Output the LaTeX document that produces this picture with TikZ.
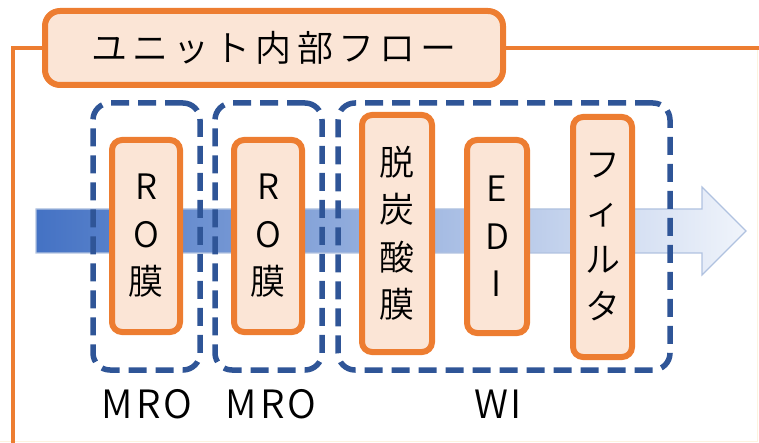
\documentclass[tikz,border=0pt]{standalone}
\usepackage{fontspec}
\newfontfamily\jp{Noto Sans CJK JP DemiLight}
\definecolor{ora}{HTML}{ED7D31}
\definecolor{peach}{HTML}{FBE5D6}
\definecolor{dblue}{HTML}{2F5597}
\definecolor{ablue}{HTML}{4472C4}
\definecolor{alight}{HTML}{F0F4FB}
\definecolor{aedge}{HTML}{B0C2E0}
\definecolor{faint}{HTML}{FDF3DF}
\begin{document}
\begin{tikzpicture}[x=1pt,y=-1pt,
 ubox/.style={draw=ora, line width=6pt, fill=peach, rounded corners=10pt, inner sep=0pt, align=center, font=\jp\fontsize{35}{47.5}\selectfont},
 grp/.style={draw=dblue, line width=5.5pt, dash pattern=on 18pt off 9pt, rounded corners=17pt, inner sep=0pt},
 lbl/.style={font=\jp\fontsize{39}{40}\selectfont\addfontfeature{LetterSpace=7}, inner sep=0pt},
 frame/.style={draw=ora, line width=4.5pt}
]
\useasboundingbox (0,0) rectangle (759,443);
% faint outer edges
\draw[faint, line width=1.5pt] (0,441.5) -- (757.5,441.5) -- (757.5,48);
% flow arrow
\shade[left color=ablue, right color=alight]
  (36,209) -- (702,209) -- (702,187) -- (746,231) -- (702,275) -- (702,253) -- (36,253) -- cycle;
\draw[aedge, line width=1.2pt, line join=miter]
  (36,209) -- (702,209) -- (702,187) -- (746,231) -- (702,275) -- (702,253) -- (36,253) -- cycle;
% title and frame
\node[ubox, minimum width=458pt, minimum height=74pt, rounded corners=15pt,
      font=\jp\fontsize{36}{40}\selectfont\addfontfeature{LetterSpace=14}] (title) at (274,48) {ユニット内部フロー};
\coordinate (fb) at (13,443);
\coordinate (fr) at (759,48);
\draw[frame] (fb) |- (title.west);
\draw[frame] (title.east) -- (fr);
% groups
\node[grp, minimum width=107pt, minimum height=267pt] (g1) at (146.5,236.5) {};
\node[grp, minimum width=107pt, minimum height=267pt] (g2) at (268.5,236.5) {};
\node[grp, minimum width=332pt, minimum height=267pt] (g3) at (504,236.5) {};
% units
\node[ubox, minimum width=68pt, minimum height=192pt] (ro1) at (146,236) {R\\O\\膜};
\node[ubox, minimum width=68pt, minimum height=192pt] (ro2) at (268,236) {R\\O\\膜};
\node[ubox, minimum width=70pt, minimum height=237pt] (dc) at (397,233.5) {脱\\炭\\酸\\膜};
\node[ubox, minimum width=60pt, minimum height=193pt] (edi) at (497,236.5) {E\\D\\I};
\node[ubox, minimum width=59pt, minimum height=240pt] (fil) at (602.5,237) {フ\\ィ\\ル\\タ};
% labels
\node[lbl] (m1) at (147,404) {MRO};
\node[lbl] (m2) at (271,404) {MRO};
\node[lbl] (wi) at (498,404) {WI};
\end{tikzpicture}
\end{document}
